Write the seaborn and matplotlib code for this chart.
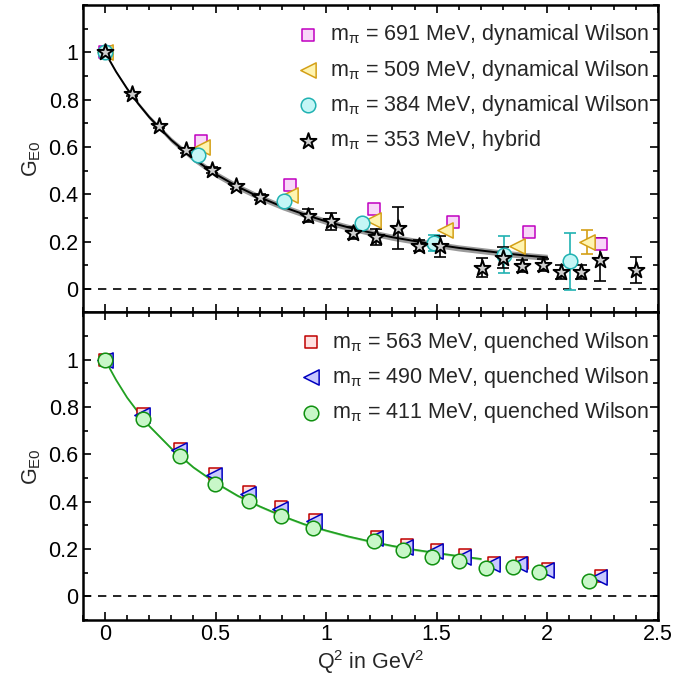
import numpy as np
import pandas as pd
import matplotlib
matplotlib.use("Agg")
import matplotlib.pyplot as plt
import seaborn as sns
from matplotlib.ticker import MultipleLocator

# ---------------- data ----------------
# top panel: dynamical Wilson + hybrid
sq691_x = [0.0, 0.433, 0.836, 1.216, 1.575, 1.918, 2.245]
sq691_y = [1.0, 0.627, 0.437, 0.339, 0.283, 0.239, 0.190]

tri509_x = [0.0, 0.44, 0.836, 1.213, 1.537, 1.861, 2.178]
tri509_y = [1.0, 0.600, 0.398, 0.292, 0.250, 0.180, 0.197]
tri509_e = [0.0, 0.0, 0.0, 0.0, 0.0, 0.0, 0.05]

cir384_x = [0.0, 0.422, 0.809, 1.163, 1.489, 1.805, 2.102]
cir384_y = [1.0, 0.567, 0.370, 0.278, 0.194, 0.145, 0.117]
cir384_e = [0.0, 0.0, 0.0, 0.0, 0.035, 0.08, 0.12]

star353_x = [0.0, 0.123, 0.244, 0.365, 0.482, 0.592, 0.70, 0.919, 1.02, 1.123,
             1.224, 1.326, 1.421, 1.515, 1.707, 1.80, 1.888, 1.979, 2.064, 2.152,
             2.238, 2.40]
star353_y = [1.0, 0.823, 0.689, 0.585, 0.503, 0.433, 0.388, 0.309, 0.285, 0.236,
             0.219, 0.257, 0.183, 0.180, 0.089, 0.131, 0.095, 0.100, 0.070, 0.070,
             0.124, 0.079]
star353_e = [0.004, 0.008, 0.008, 0.01, 0.012, 0.012, 0.014, 0.028, 0.035, 0.027,
             0.032, 0.088, 0.025, 0.045, 0.04, 0.045, 0.025, 0.025, 0.03, 0.03,
             0.09, 0.055]

fit_top_x = [0.0, 0.05, 0.1, 0.15, 0.2, 0.3, 0.4, 0.5, 0.6, 0.7, 0.8, 0.9, 1.0,
             1.1, 1.2, 1.3, 1.4, 1.5, 1.6, 1.7, 1.8, 1.9, 2.0]
fit_top_y = [1.0, 0.918, 0.846, 0.783, 0.726, 0.629, 0.55, 0.485, 0.432, 0.387,
             0.348, 0.315, 0.285, 0.26, 0.238, 0.218, 0.202, 0.187, 0.173, 0.162,
             0.151, 0.141, 0.133]
fit_top_w = [0.0, 0.004, 0.006, 0.008, 0.009, 0.011, 0.012, 0.013, 0.013, 0.013,
             0.013, 0.013, 0.013, 0.013, 0.013, 0.013, 0.013, 0.013, 0.013, 0.013,
             0.013, 0.013, 0.013]

# bottom panel: quenched Wilson
sq563_x = [0.0, 0.173, 0.339, 0.497, 0.651, 0.796, 0.95, 1.228, 1.364, 1.50,
           1.627, 1.76, 1.884, 2.004, 2.245]
sq563_y = [1.0, 0.771, 0.624, 0.519, 0.439, 0.376, 0.323, 0.25, 0.215, 0.196,
           0.173, 0.14, 0.14, 0.117, 0.084]

tri490_x = [0.0, 0.168, 0.333, 0.493, 0.648, 0.793, 0.943, 1.22, 1.356, 1.492,
            1.618, 1.75, 1.874, 1.994, 2.232]
tri490_y = [1.0, 0.768, 0.618, 0.512, 0.433, 0.369, 0.318, 0.245, 0.21, 0.19,
            0.168, 0.136, 0.135, 0.112, 0.08]

cir411_x = [0.0, 0.173, 0.339, 0.497, 0.651, 0.796, 0.942, 1.216, 1.349, 1.477,
            1.602, 1.725, 1.843, 1.962, 2.19]
cir411_y = [1.0, 0.75, 0.592, 0.477, 0.404, 0.341, 0.288, 0.234, 0.194, 0.168,
            0.151, 0.119, 0.126, 0.101, 0.063]

fit_bot_x = [0.0, 0.05, 0.1, 0.15, 0.2, 0.3, 0.4, 0.5, 0.6, 0.7, 0.8, 0.9, 1.0,
             1.1, 1.2, 1.3, 1.4, 1.5, 1.6, 1.7]
fit_bot_y = [1.0, 0.915, 0.84, 0.778, 0.72, 0.625, 0.545, 0.48, 0.425, 0.38,
             0.34, 0.305, 0.278, 0.253, 0.232, 0.213, 0.197, 0.183, 0.17, 0.158]
fit_bot_w = [0.0, 0.003, 0.004, 0.005, 0.005, 0.005, 0.005, 0.005, 0.005, 0.005,
             0.005, 0.005, 0.005, 0.005, 0.005, 0.005, 0.005, 0.005, 0.005, 0.005]

x_ticks = [0, 0.5, 1, 1.5, 2, 2.5]
x_ticklabels = ["0", "0.5", "1", "1.5", "2", "2.5"]
y_ticks = [0, 0.2, 0.4, 0.6, 0.8, 1.0]
y_ticklabels = ["0", "0.2", "0.4", "0.6", "0.8", "1"]

labels_top = [r"$\mathregular{m_{π}}$ = 691 MeV, dynamical Wilson",
              r"$\mathregular{m_{π}}$ = 509 MeV, dynamical Wilson",
              r"$\mathregular{m_{π}}$ = 384 MeV, dynamical Wilson",
              r"$\mathregular{m_{π}}$ = 353 MeV, hybrid"]
labels_bot = [r"$\mathregular{m_{π}}$ = 563 MeV, quenched Wilson",
              r"$\mathregular{m_{π}}$ = 490 MeV, quenched Wilson",
              r"$\mathregular{m_{π}}$ = 411 MeV, quenched Wilson"]

# ---------------- style ----------------
sns.set_style("ticks")
plt.rcParams['font.family'] = ['Liberation Sans', 'DejaVu Sans']
plt.rcParams['mathtext.fontset'] = 'custom'
plt.rcParams['mathtext.rm'] = 'Liberation Sans'
plt.rcParams['mathtext.it'] = 'Liberation Sans:italic'
plt.rcParams['mathtext.bf'] = 'Liberation Sans:bold'
FS = 15.5

fig, (ax1, ax2) = plt.subplots(2, 1, figsize=(6.74, 6.75), dpi=100, sharex=True)
fig.subplots_adjust(left=0.123, right=0.976, top=0.9926, bottom=0.0815, hspace=0)


def scatter(ax, x, y, marker, size, face, edge, label, z, lw=1.1):
    sns.scatterplot(x=x, y=y, marker=marker, s=size ** 2, color=face,
                    edgecolor=edge, linewidth=lw, label=label, ax=ax, zorder=z)


def band(ax, x, y, w, line_color, band_color, lw):
    df = pd.DataFrame({"x": x, "y": y, "w": w})
    ax.fill_between(df.x, df.y - df.w, df.y + df.w, color=band_color, lw=0, zorder=2)
    sns.lineplot(data=df, x="x", y="y", color=line_color, lw=lw, ax=ax, zorder=3)


# ---- top panel ----
band(ax1, fit_top_x, fit_top_y, fit_top_w, "black", "#9a9a9a", 1.4)
ax1.errorbar(tri509_x, tri509_y, yerr=tri509_e, fmt="none", ecolor="#d4a017",
             elinewidth=1.2, capsize=4, capthick=1.2, zorder=4)
ax1.errorbar(cir384_x, cir384_y, yerr=cir384_e, fmt="none", ecolor="#20b2b2",
             elinewidth=1.2, capsize=4, capthick=1.2, zorder=4)
ax1.errorbar(star353_x, star353_y, yerr=star353_e, fmt="none", ecolor="black",
             elinewidth=1.2, capsize=4, capthick=1.2, zorder=5)
scatter(ax1, sq691_x, sq691_y, "s", 9, "#f8d8f8", "#c000c0", labels_top[0], 6)
scatter(ax1, tri509_x, tri509_y, "<", 11, "#fff4b0", "#d4a017", labels_top[1], 6)
scatter(ax1, cir384_x, cir384_y, "o", 10.5, "#c4f6f6", "#20b2b2", labels_top[2], 7)
scatter(ax1, star353_x, star353_y, "*", 12, "#cfcfcf", "black", labels_top[3], 8, lw=1.4)

# ---- bottom panel ----
band(ax2, fit_bot_x, fit_bot_y, fit_bot_w, "#22a022", "#b8ecb8", 1.3)
scatter(ax2, sq563_x, sq563_y, "s", 9, "#ffe0e0", "#c00000", labels_bot[0], 5)
scatter(ax2, tri490_x, tri490_y, "<", 11, "#c8c8ff", "#0000c0", labels_bot[1], 6)
scatter(ax2, cir411_x, cir411_y, "o", 10.5, "#c8f7c8", "#109010", labels_bot[2], 7)

for ax in (ax1, ax2):
    ax.axhline(0, color="black", lw=1.2, ls=(0, (5, 4)), zorder=1)
    ax.set_xlim(-0.1, 2.5)
    ax.set_ylim(-0.1, 1.2)
    ax.set_xticks(x_ticks)
    ax.set_yticks(y_ticks)
    ax.set_yticklabels(y_ticklabels, fontsize=FS)
    ax.xaxis.set_minor_locator(MultipleLocator(0.1))
    ax.yaxis.set_minor_locator(MultipleLocator(0.1))
    ax.tick_params(which="both", direction="in", top=True, right=True,
                   width=1.2, colors="black", labelsize=FS, pad=3)
    ax.tick_params(which="major", length=6)
    ax.tick_params(which="minor", length=3.5)
    for s in ax.spines.values():
        s.set_linewidth(1.8)
        s.set_color("black")
    ax.set_ylabel(r"$\mathregular{G_{E0}}$", fontsize=FS, labelpad=4)
    ax.legend(loc="upper right", bbox_to_anchor=(1.015, 1.0), frameon=False,
              fontsize=FS, handletextpad=0.3, labelspacing=0.48,
              borderaxespad=0.4, handlelength=1.4)

ax2.set_xticklabels(x_ticklabels, fontsize=FS)
ax1.tick_params(labelbottom=False)
ax2.set_xlabel(r"$\mathregular{Q^2}$ in $\mathregular{GeV^2}$", fontsize=FS, labelpad=2)

fig.savefig("out.png", dpi=100)
